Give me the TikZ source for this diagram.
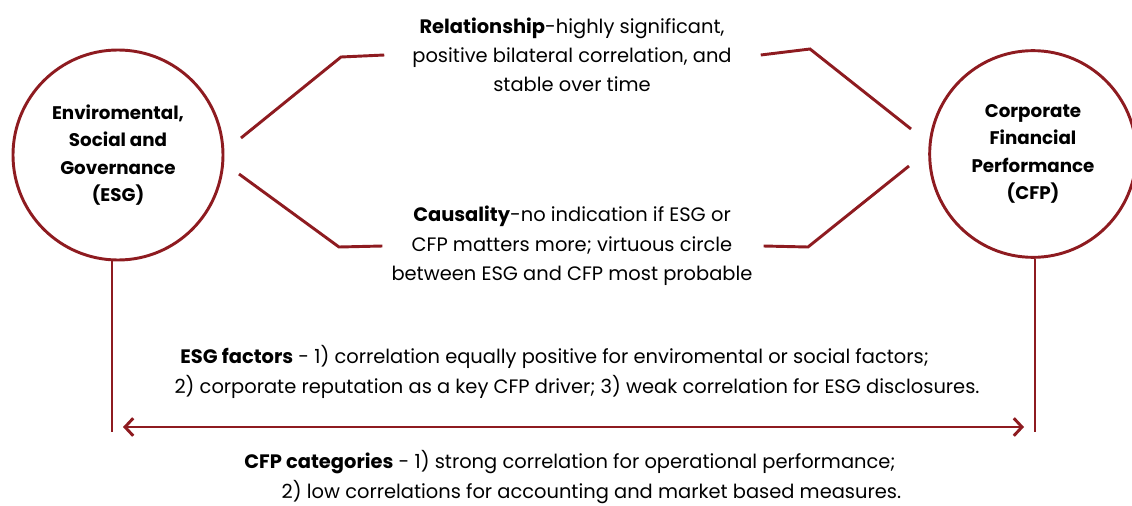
\documentclass[tikz,border=0pt]{standalone}
\usepackage{fontspec}
\setmainfont{Poppins}
\usepackage{tikz}
\usetikzlibrary{arrows.meta,positioning,calc}
\definecolor{esgred}{HTML}{8E1B20}

\tikzset{
    link/.style={draw=esgred,line width=2.5pt},
    bubble/.style={circle,draw=esgred,line width=2.5pt,minimum size=6.3cm,inner sep=0pt,
        align=center,font=\fontsize{15.6}{23.5}\selectfont\bfseries},
    note/.style={align=center,font=\fontsize{16.6}{25}\selectfont}
}

\begin{document}
\begin{tikzpicture}[x=0.03cm,y=-0.03cm]
    \useasboundingbox (0,0) rectangle (1132,505);
    % the two circles
    \node[bubble] (esg) at (118,155) {Enviromental,\\Social and\\Governance\\(ESG)};
    \node[bubble,minimum size=6.2cm] (cfp) at (1033,154) {Corporate\\Financial\\Performance\\(CFP)};
    % texts
    \node[note] (rel) at (572,55) {\textbf{Relationship}-highly significant,\\positive bilateral correlation, and\\stable over time};
    \node[note] (caus) at (572,246) {\textbf{Causality}-no indication if ESG or\\CFP matters more; virtuous circle\\between ESG and CFP most probable};
    \node[note] (fac) at (577,372) {\textbf{ESG factors} - 1) correlation equally positive for enviromental or social factors;\hspace*{2.3em}\\2) corporate reputation as a key CFP driver; 3) weak correlation for ESG disclosures.};
    \node[note] (cat) at (570,477) {\textbf{CFP categories} - 1) strong correlation for operational performance;\\\hspace*{2.2em}2) low correlations for accounting and market based measures.};
    % brackets
    \coordinate (l1) at (241,138);
    \coordinate (l2) at (239,174);
    \coordinate (r1) at (911,129);
    \coordinate (r2) at (909,166);
    \draw[link] (l1) -- (341,57) -- ($(rel.west)+(-24,0)$ |- 0,57);
    \draw[link] (l2) -- (339,247) -- ($(caus.west)+(-5,0)$ |- 0,247);
    \draw[link] (r1) -- (810,49) -- ($(rel.east)+(25,0)$ |- 0,49);
    \draw[link] (r2) -- (808,247) -- ($(caus.east)+(7,0)$ |- 0,247);
    % legs and arrow
    \coordinate (la) at (112,432);
    \coordinate (ra) at (1035,432);
    \draw[link] (esg.south -| la) -- (la);
    \draw[link] (cfp.south -| ra) -- (ra);
    \draw[link,{Straight Barb[length=7pt,width=15pt]}-{Straight Barb[length=7pt,width=15pt]}]
        (123,427) -- (1024,427);
\end{tikzpicture}
\end{document}
